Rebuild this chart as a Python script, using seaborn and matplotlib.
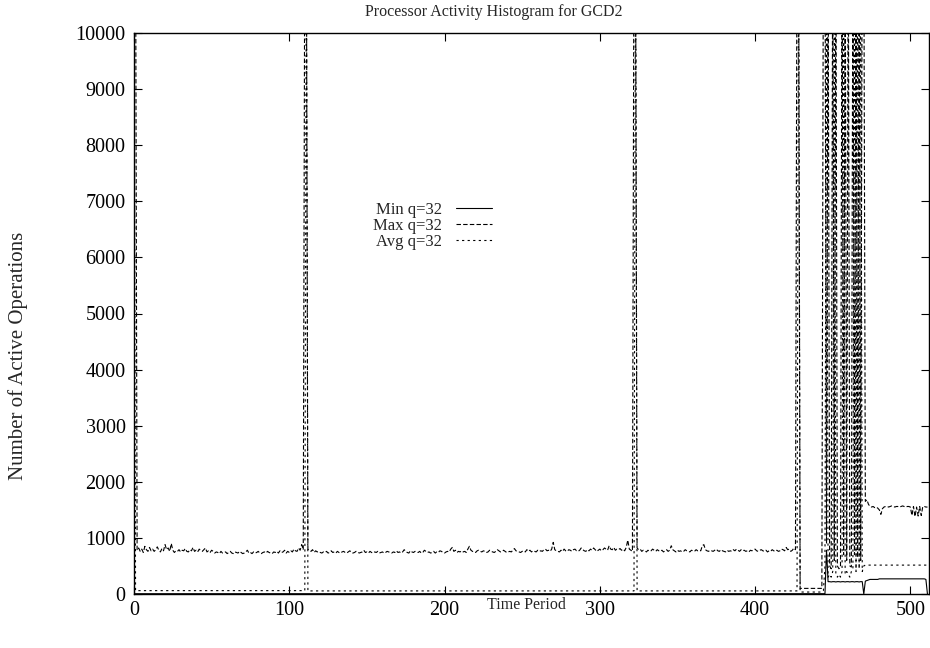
import numpy as np
import pandas as pd
import matplotlib
matplotlib.use("Agg")
import matplotlib.pyplot as plt
import seaborn as sns

# ---------------- data ----------------
HI = 12000  # bursts that run off the top of the plot

max_seg1 = [780, 820, 760, 800, 740, 850, 790, 760, 830, 770,
            800, 760, 790, 840, 780, 750, 810, 770, 880, 790,
            820, 760, 900, 780, 740, 770, 760, 790, 750, 780,
            770, 810, 760, 750, 790, 770, 830, 760, 780, 750,
            800, 770, 760, 790, 820, 750, 770, 740, 780, 760,
            730, 750, 740, 720, 760, 730, 740, 750, 720, 740,
            760, 730, 720, 750, 740, 730, 760, 740, 720, 730,
            750, 780, 730, 740, 720, 750, 730, 740, 760, 730,
            720, 740, 750, 730, 760, 740, 730, 720, 750, 740,
            760, 730, 770, 740, 750, 780, 730, 760, 740, 770,
            750, 800, 770, 760, 820, 780, 880, 790]
max_seg2 = [800, 780, 760, 790, 740, 770, 750, 760, 740, 730,
            750, 740, 760, 730, 740, 770, 740, 750, 730, 760,
            740, 730, 750, 760, 740, 730, 750, 770, 740, 730,
            740, 760, 750, 730, 740, 750, 780, 740, 750, 730,
            760, 740, 730, 750, 740, 760, 730, 740, 750, 730,
            740, 760, 750, 740, 730, 750, 740, 770, 740, 750,
            730, 750, 790, 760, 740, 730, 770, 750, 740, 760,
            750, 740, 760, 730, 740, 780, 760, 740, 750, 730,
            740, 760, 730, 750, 740, 770, 760, 740, 730, 750,
            760, 750, 800, 830, 760, 780, 740, 760, 750, 770,
            750, 760, 740, 800, 850, 780, 760, 750, 740, 770,
            780, 760, 750, 770, 760, 740, 750, 780, 760, 750,
            740, 760, 790, 770, 750, 760, 780, 760, 740, 750,
            760, 750, 780, 810, 770, 760, 750, 740, 760, 770,
            750, 790, 760, 780, 750, 770, 760, 750, 780, 760,
            770, 760, 790, 800, 770, 780, 760, 800, 920, 790,
            770, 760, 750, 780, 760, 800, 770, 760, 790, 780,
            760, 790, 800, 770, 760, 780, 820, 790, 770, 760,
            790, 770, 800, 780, 820, 790, 760, 780, 800, 770,
            790, 820, 800, 780, 860, 800, 790, 830, 780, 800,
            790, 810, 780, 800, 770, 830, 960, 800, 780, 760]
max_seg3 = [820, 790, 800, 760, 780, 770, 750, 780, 760, 770,
            800, 780, 760, 790, 770, 760, 780, 750, 770, 790,
            760, 780, 860, 790, 770, 750, 780, 760, 770, 750,
            760, 790, 770, 760, 750, 780, 770, 760, 790, 770,
            780, 770, 860, 880, 790, 770, 760, 780, 770, 760,
            780, 800, 770, 760, 790, 770, 760, 750, 780, 760,
            770, 760, 790, 770, 800, 780, 760, 790, 770, 780,
            760, 770, 750, 780, 770, 790, 800, 770, 760, 780,
            790, 770, 760, 780, 750, 770, 760, 790, 770, 760,
            780, 760, 770, 800, 790, 770, 830, 790, 800, 760,
            780, 820, 790]
max_burst = [HI, HI, 900, HI, 500, 450, HI, 600, HI, 500,
             450, 480, HI, 700, HI, 600, HI, 500, 480, HI,
             700, HI, 650, HI, 600, HI, HI]               # t = 444..470
max_tail = [1650, 1680, 1600, 1560, 1550, 1560, 1540, 1550, 1530, 1500,
            1420, 1520, 1550, 1560, 1560, 1550, 1560, 1570, 1560, 1550,
            1560, 1560, 1550, 1560, 1570, 1560, 1550, 1560, 1560, 1550,
            1400, 1560, 1380, 1550, 1390, 1560, 1400, 1560, 1560, 1550,
            1550]                                           # t = 471..511

max_vals = ([HI, HI] + max_seg1 + [HI, HI] + max_seg2 + [HI, HI] + max_seg3
            + [HI, HI] + [100] * 15 + max_burst + max_tail)

avg_burst = [60, 500, HI, 300, 350, 300, 400, HI, 350, 300,
             350, 300, 400, HI, 350, 400, 350, 300, 400, 450,
             HI, 400, HI, 450, HI, 400, 500]               # t = 444..470
avg_vals = ([HI] + [60] * 110 + [HI] + [55] * 211 + [HI] + [55] * 104
            + [HI] + [35] * 15 + avg_burst + [515] * 41)

min_burst = [5, 5, 780, 220, 220, 215, 220, 220, 215, 220,
             220, 215, 220, 220, 215, 220, 220, 215, 220, 220,
             215, 220, 220, 215, 220, 220, 0]              # t = 444..470
min_tail = [230, 240, 250, 260, 260, 260, 260, 260, 260, 270,
            270, 270, 270, 270, 270, 270, 270, 270, 270, 270,
            270, 270, 270, 270, 270, 270, 270, 270, 270, 270,
            270, 270, 270, 270, 270, 270, 270, 270, 270, 260,
            0]                                              # t = 471..511
min_vals = [5] * 444 + min_burst + min_tail

time = list(range(len(max_vals)))
labels = ["Min q=32", "Max q=32", "Avg q=32"]

# ---------------- plot ----------------
sns.set_style("ticks")
plt.rcParams["font.family"] = ["Liberation Serif", "DejaVu Serif"]
plt.rcParams["font.size"] = 11.5

fig = plt.figure(figsize=(9.3, 6.48), dpi=100)
ax = fig.add_axes([134 / 930, 1 - 594 / 648, 795 / 930, 561 / 648])

df = pd.DataFrame({"t": time, "min": min_vals, "max": max_vals, "avg": avg_vals})
lw = 0.8
sns.lineplot(data=df, x="t", y="min", ax=ax, color="black", linewidth=lw,
             label=labels[0])
sns.lineplot(data=df, x="t", y="max", ax=ax, color="black", linewidth=lw,
             linestyle=(0, (4, 2)), label=labels[1])
sns.lineplot(data=df, x="t", y="avg", ax=ax, color="black", linewidth=lw,
             linestyle=(0, (2, 3)), label=labels[2])

ax.set_xlim(0, 512)
ax.set_ylim(0, 10000)
ax.set_xticks(range(0, 501, 100))
ax.set_yticks(range(0, 10001, 1000))
ax.tick_params(direction="in", length=6, width=0.8, top=True, right=True,
               labelsize=14.5, color="black", labelcolor="black")
ax.tick_params(axis="x", pad=5)
ax.tick_params(axis="y", pad=6)
for s in ax.spines.values():
    s.set_visible(True)
    s.set_linewidth(1.0)
    s.set_color("black")

ax.set_xlabel("Time Period", fontsize=11.5)
ax.set_ylabel("Number of Active Operations", fontsize=15)
ax.xaxis.set_label_coords((526 - 134) / 795, (594 - 605) / 561)
ax.xaxis.label.set_va("center")
ax.yaxis.set_label_coords((18 - 134) / 795, (594 - 356) / 561)
ax.yaxis.label.set_va("center")

fig.text(494 / 930, 1 - 12 / 648, "Processor Activity Histogram for GCD2",
         ha="center", va="center", fontsize=11.5)

leg = ax.legend(loc="upper left", bbox_to_anchor=((365 - 134) / 795, (594 - 194) / 561),
                frameon=False, markerfirst=False, handlelength=2.2,
                handletextpad=0.8, labelspacing=0.0, borderpad=0,
                fontsize=12)

fig.savefig("out.png", dpi=100)
